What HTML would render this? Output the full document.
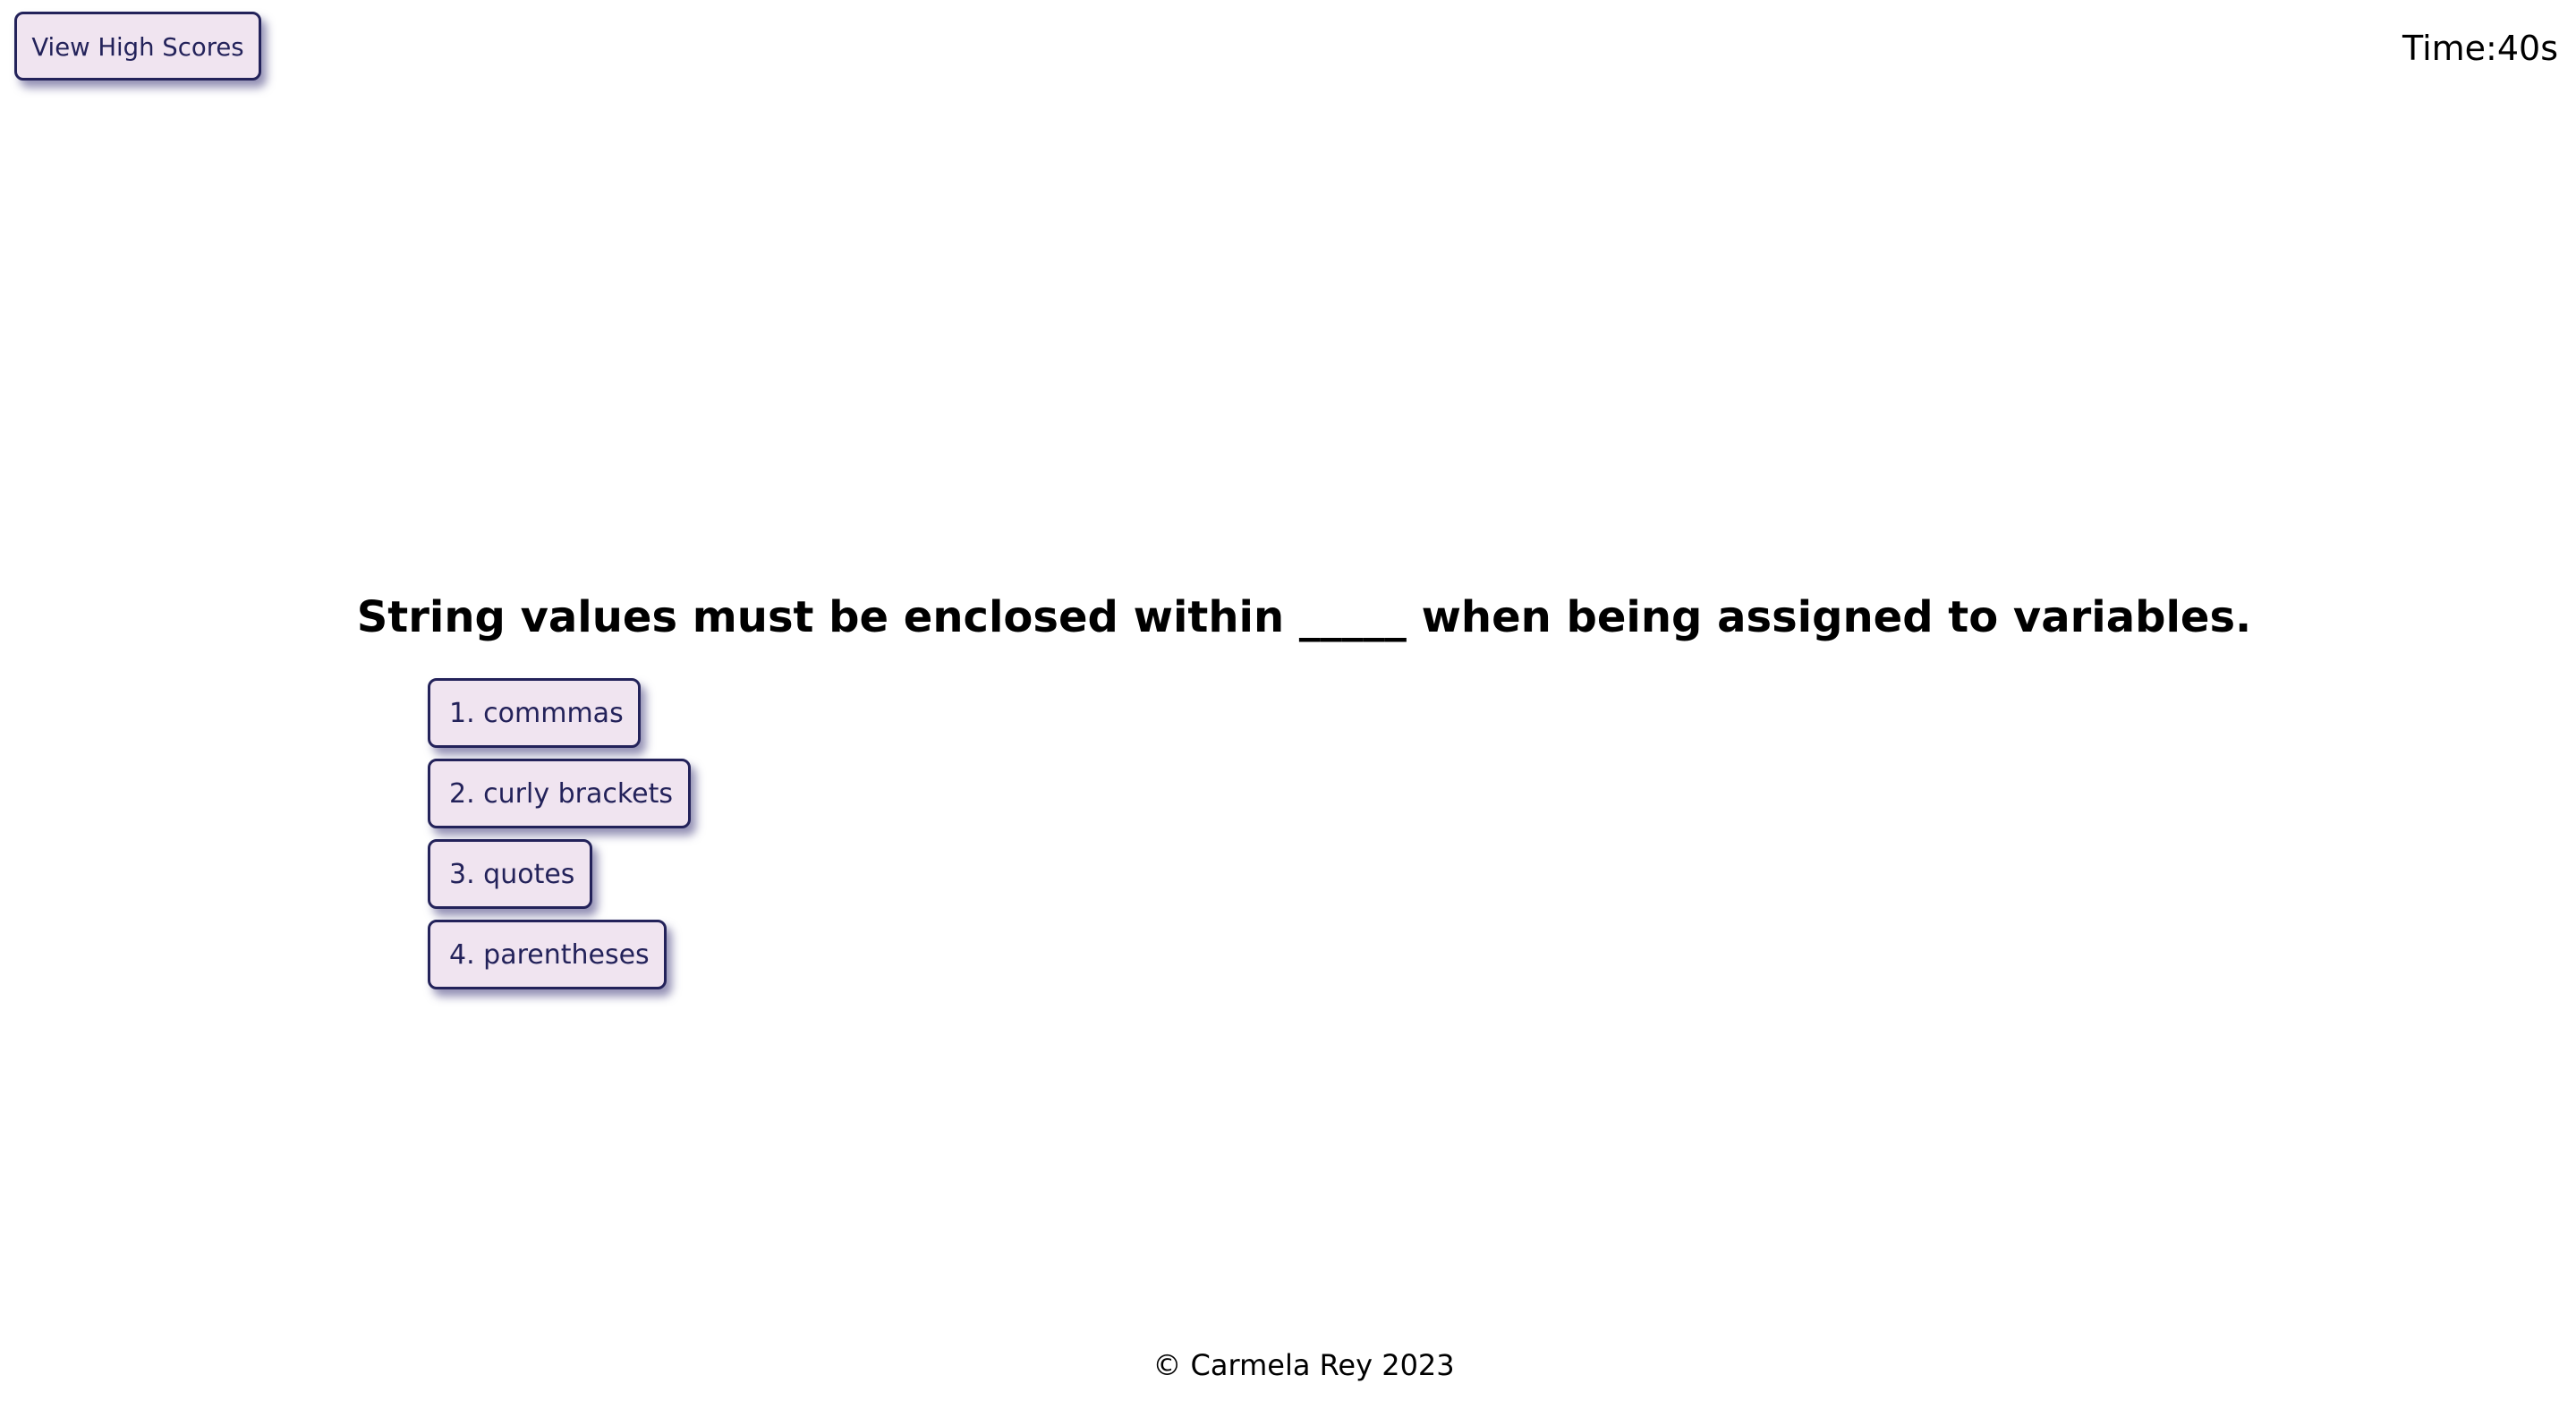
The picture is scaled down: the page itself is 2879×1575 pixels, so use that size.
<!DOCTYPE html>
<html><head><meta charset="utf-8"><style>
body{margin:0;width:2879px;height:1575px;background:#fff;font-family:"DejaVu Sans","Liberation Sans",sans-serif;position:relative;overflow:hidden}
.btn{position:absolute;box-sizing:border-box;background:#f0e4f0;border:3px solid #23225a;border-radius:10px;color:#23225a;box-shadow:6px 8px 10px rgba(60,55,120,.55);white-space:nowrap}
.ans{left:478px;height:78px;font-size:30px;line-height:74px;padding-left:21px}
</style></head><body>
<div class="btn" style="left:16px;top:13px;width:276px;height:77px;font-size:27.5px;line-height:74px;text-align:center">View High Scores</div>
<div style="position:absolute;right:20px;top:32px;font-size:38px">Time:40s</div>
<div style="position:absolute;left:0;width:2915px;top:662px;text-align:center;font-size:48px;font-weight:bold">String values must be enclosed within _____ when being assigned to variables.</div>
<div class="btn ans" style="top:758px;width:238px">1. commmas</div>
<div class="btn ans" style="top:848px;width:294px">2. curly brackets</div>
<div class="btn ans" style="top:938px;width:184px">3. quotes</div>
<div class="btn ans" style="top:1028px;width:267px">4. parentheses</div>
<div style="position:absolute;left:0;width:2914px;top:1507px;text-align:center;font-size:32px">© Carmela Rey 2023</div>
</body></html>
